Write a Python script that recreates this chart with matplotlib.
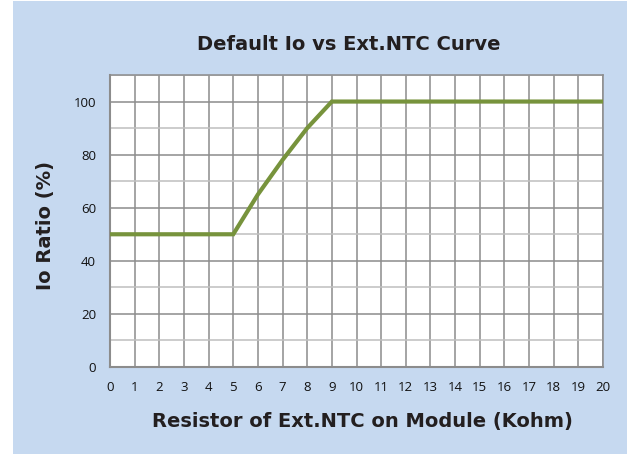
import numpy as np
import matplotlib.pyplot as plt
from matplotlib.patches import Rectangle

# data
resistor_kohm = [0, 5, 6, 7, 8, 9, 20]
io_ratio = [50, 50, 65, 78, 90, 100, 100]
x_ticks = list(range(0, 21))
y_ticks = [0, 20, 40, 60, 80, 100]

bg = '#C6D9F0'
grid_dark = '#8C8C8C'
grid_light = '#BFBFBF'
green = '#77933C'

fig = plt.figure(figsize=(6.27, 4.54), dpi=100)
fig.patch.set_facecolor('white')
fig.patches.append(Rectangle((13 / 627, 0), 1 - 13 / 627, 1 - 1 / 454,
                             transform=fig.transFigure, facecolor=bg,
                             edgecolor='none', zorder=-10))

ax = fig.add_axes([110 / 627, 1 - 367 / 454, (603 - 110) / 627, (367 - 75) / 454])
ax.set_facecolor('white')

ax.plot(resistor_kohm, io_ratio, color=green, linewidth=3, zorder=5,
        solid_joinstyle='miter', solid_capstyle='butt')

ax.set_xlim(0, 20)
ax.set_ylim(0, 110)
ax.set_xticks(x_ticks)
ax.set_yticks(y_ticks)
ax.set_yticks(np.arange(10, 111, 20), minor=True)
ax.tick_params(which='both', length=0)
ax.tick_params(axis='x', pad=10)
ax.tick_params(axis='y', pad=10)
for lab in ax.get_xticklabels() + ax.get_yticklabels():
    lab.set_fontfamily('Open Sans')
    lab.set_fontsize(9.5)
    lab.set_color('#111111')

ax.grid(True, which='major', axis='both', color=grid_dark, linewidth=1.1)
ax.grid(True, which='minor', axis='y', color=grid_light, linewidth=1.1)
ax.set_axisbelow(True)
for s in ax.spines.values():
    s.set_color(grid_dark)
    s.set_linewidth(1.1)
ax.spines['left'].set_linewidth(1.5)
ax.spines['bottom'].set_linewidth(1.5)

fig.text(349 / 627, 1 - 45 / 454, 'Default Io vs Ext.NTC Curve',
         ha='center', va='center', fontsize=14, fontweight='bold',
         family='DejaVu Sans', color='#231F20')
fig.text(362 / 627, 1 - 422 / 454, 'Resistor of Ext.NTC on Module (Kohm)',
         ha='center', va='center', fontsize=14, fontweight='bold',
         family='DejaVu Sans', color='#231F20')
fig.text(46 / 627, 1 - 225 / 454, 'Io Ratio (%)', rotation=90,
         ha='center', va='center', fontsize=14, fontweight='bold',
         family='DejaVu Sans', color='#231F20')

fig.savefig('out.png', dpi=100, facecolor=fig.get_facecolor())
